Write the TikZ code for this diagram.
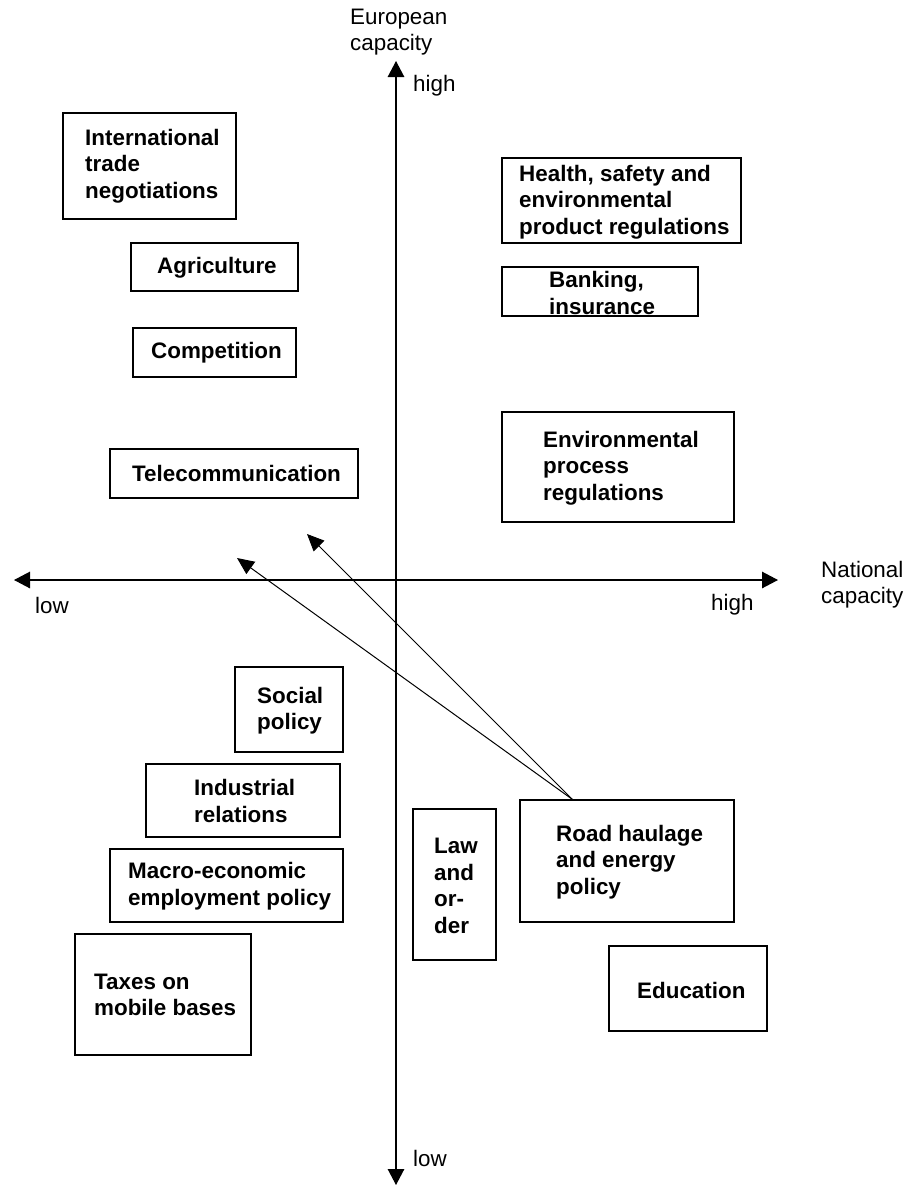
\documentclass[tikz,border=0pt]{standalone}
\usepackage{fontspec}
\setmainfont{Liberation Sans}
\usetikzlibrary{arrows.meta,calc}
\begin{document}
\begin{tikzpicture}[x=1pt,y=-1pt,
  box/.style={draw=black,line width=1.3pt,rectangle,inner sep=0pt},
  lbl/.style={inner sep=0pt,anchor=west,align=left,font=\fontsize{22.4}{26.5}\selectfont\bfseries},
  axlbl/.style={inner sep=0pt,anchor=west,align=left,font=\fontsize{22.4}{26}\selectfont},
  axis/.style={line width=1.3pt,{Triangle[length=16pt,width=16.5pt]}-{Triangle[length=16pt,width=16.5pt]}},
  move/.style={line width=1pt,-{Triangle[length=17pt,width=15pt]}}]
\useasboundingbox (0,0) rectangle (910,1186);

% axes
\coordinate (vtop) at (396,61);
\coordinate (vbot) at (396,1185);
\coordinate (hl) at (14,580);
\coordinate (hr) at (778,580);
\draw[axis] (vbot) -- (vtop);
\draw[axis] (hl) -- (hr);

% axis labels
\node[axlbl] (eurcap) at (350,32) {European\\capacity};
\node[axlbl] (vhigh) at (413,86) {high};
\node[axlbl] (vlow) at (413,1158) {low};
\node[axlbl] (hlow) at (35,605) {low};
\node[axlbl] (hhigh) at (711,605) {high};
\node[axlbl] (natcap) at (821,584.5) {National\\capacity};

% boxes
\node[box,minimum width=173pt,minimum height=106pt] (intl) at (149.5,166) {};
\node[box,minimum width=167pt,minimum height=48pt] (agri) at (214.5,267) {};
\node[box,minimum width=163pt,minimum height=49pt] (comp) at (214.5,352.5) {};
\node[box,minimum width=248pt,minimum height=49pt] (tele) at (234,473.5) {};
\node[box,minimum width=239pt,minimum height=85pt] (health) at (621.5,200.5) {};
\node[box,minimum width=196pt,minimum height=49pt] (bank) at (600,291.5) {};
\node[box,minimum width=232pt,minimum height=110pt] (env) at (618,467) {};
\node[box,minimum width=108pt,minimum height=85pt] (social) at (289,709.5) {};
\node[box,minimum width=194pt,minimum height=73pt] (indus) at (243,800.5) {};
\node[box,minimum width=233pt,minimum height=73pt] (macro) at (226.5,885.5) {};
\node[box,minimum width=176pt,minimum height=121pt] (taxes) at (163,994.5) {};
\node[box,minimum width=83pt,minimum height=151pt] (law) at (454.5,884.5) {};
\node[box,minimum width=214pt,minimum height=122pt] (road) at (627,861) {};
\node[box,minimum width=158pt,minimum height=85pt] (edu) at (688,988.5) {};

% box texts
\node[lbl] (intlT) at (85,166) {International\\trade\\negotiations};
\node[lbl] (agriT) at (157,268) {Agriculture};
\node[lbl] (compT) at (151,353) {Competition};
\node[lbl] (teleT) at (132,473) {Telecommunication};
\node[lbl] (healthT) at (519,202) {Health, safety and\\environmental\\product regulations};
\node[lbl] (bankT) at (549,293) {Banking,\\insurance};
\node[lbl] (envT) at (543,468) {Environmental\\process\\regulations};
\node[lbl] (socialT) at (257,710.5) {Social\\policy};
\node[lbl] (indusT) at (194,801) {Industrial\\relations};
\node[lbl] (macroT) at (128,886) {Macro-economic\\employment policy};
\node[lbl] (taxesT) at (94,995) {Taxes on\\mobile bases};
\node[lbl] (lawT) at (434,886) {Law\\and\\or-\\der};
\node[lbl] (roadT) at (556,862) {Road haulage\\and energy\\policy};
\node[lbl] (eduT) at (637,990) {Education};

% movement arrows
\coordinate (rs) at ($(road.north west)+(53,0)$);
\coordinate (t1) at (307,534);
\coordinate (t2) at (237,558);
\draw[move] (rs) -- (t1);
\draw[move] (rs) -- (t2);
\end{tikzpicture}
\end{document}
